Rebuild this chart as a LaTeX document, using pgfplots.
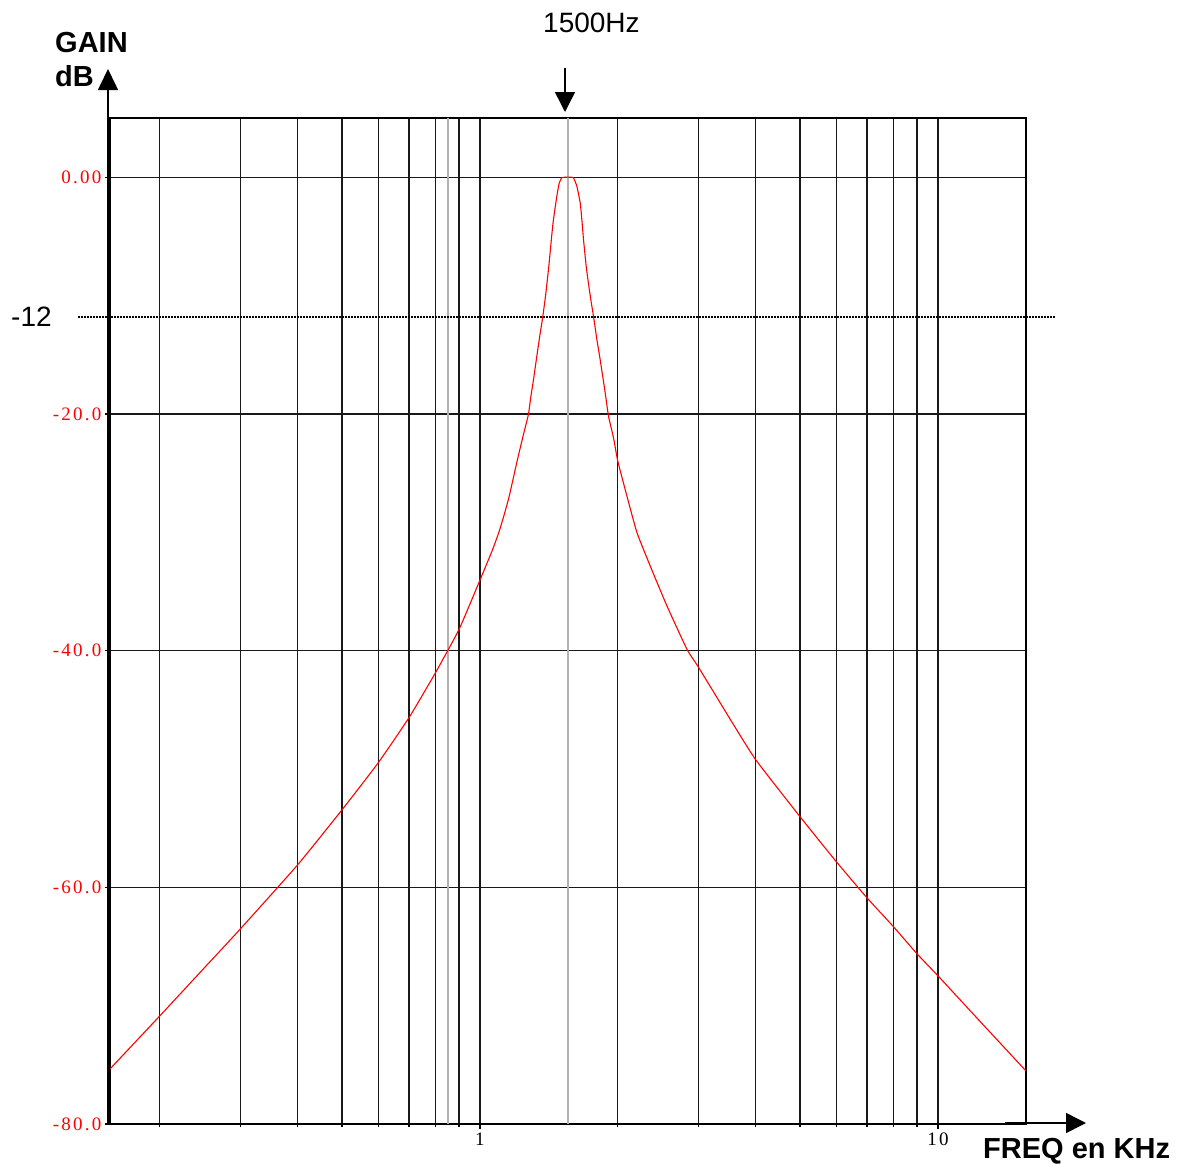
\documentclass[border=0pt]{standalone}
\usepackage{pgfplots}
\pgfplotsset{compat=1.18}
\usepackage{fontspec}
\setmainfont{Liberation Sans}
\newfontfamily\tf[LetterSpace=12]{Liberation Serif}
\usetikzlibrary{arrows.meta}

\pgfplotstableread{
f dB
0.1557 -75.35
0.2 -70.87
0.25 -66.82
0.3 -63.51
0.4 -58.10
0.5 -53.45
0.6 -49.47
0.7 -45.67
0.8 -41.86
0.9 -38.22
1.0 -34.05
1.029 -32.90
1.065 -31.50
1.100 -30.00
1.130 -28.50
1.158 -27.00
1.183 -25.40
1.212 -23.60
1.240 -22.00
1.276 -20.04
1.291 -18.60
1.308 -17.20
1.328 -15.40
1.350 -13.50
1.372 -11.75
1.392 -9.90
1.414 -7.50
1.435 -4.90
1.447 -3.60
1.472 -1.60
1.490 -0.50
1.509 -0.05
1.530 0.00
1.557 0.00
1.585 0.00
1.600 -0.05
1.627 -0.73
1.655 -2.14
1.669 -3.55
1.683 -5.24
1.706 -7.50
1.726 -9.00
1.747 -10.40
1.770 -11.75
1.800 -13.70
1.830 -15.39
1.877 -18.21
1.909 -20.20
1.957 -22.00
2.0 -23.99
2.094 -26.95
2.203 -30.05
2.355 -32.87
2.562 -36.25
2.834 -39.92
3.0 -41.40
3.524 -45.84
4 -49.22
5 -54.04
6 -57.84
7 -60.89
8 -63.34
9 -65.62
10 -67.48
12 -70.80
15.57 -75.52
}\gain

\begin{document}
\begin{tikzpicture}
\useasboundingbox (0,0) rectangle (1186pt,-1164pt);
\begin{axis}[
 at={(110pt,-118pt)}, anchor=north west,
 scale only axis, width=916pt, height=1006pt,
 xmode=log, xmin=0.1557, xmax=15.57, ymin=-80, ymax=5,
 xtick={1,10}, xticklabels={1,10},
 minor xtick={0.2,0.3,0.4,0.5,0.6,0.7,0.8,0.9,2,3,4,5,6,7,8,9},
 ytick={0,-20,-40,-60,-80}, yticklabels={0.00,-20.0,-40.0,-60.0,-80.0},
 grid=both,
 major grid style={black!90, line width=1.35pt},
 minor grid style={black!90, line width=1.35pt},
 axis line style={black, line width=1.3pt},
 tick style={black, line width=1.3pt},
 tick align=outside, major tick length=5pt, minor tick length=3pt,
 xtick pos=bottom, ytick pos=left,
 ticklabel style={font=\fontsize{19}{19}\selectfont\tf},
 yticklabel style={text=red},
 clip=false,
]
\draw[gray!60, line width=1.5pt] (axis cs:1.557,-80) -- (axis cs:1.557,5);
\draw[gray!60, line width=1.5pt] (axis cs:0.851,-80) -- (axis cs:0.851,5);
\addplot[red, line width=1.1pt, no marks, smooth, tension=0.3] table[x=f, y=dB] {\gain};
\end{axis}
\draw[black, line width=1.2pt, dash pattern=on 1.5pt off 1.5pt] (78pt,-317pt) -- (1055pt,-317pt);
\draw[line width=1.5pt, -{Triangle[width=20pt,length=21pt]}] (108pt,-1124pt) -- (108pt,-69pt);
\draw[line width=1.5pt, -{Triangle[width=20pt,length=20pt]}] (1005pt,-1123pt) -- (1086pt,-1123pt);
\draw[line width=1.5pt, -{Triangle[width=20pt,length=20pt]}] (565pt,-68pt) -- (565pt,-112pt);
\node[anchor=base west, inner sep=0pt, font=\fontsize{29}{34}\selectfont\bfseries] at (55pt,-53pt) {GAIN};
\node[anchor=base west, inner sep=0pt, font=\fontsize{29}{34}\selectfont\bfseries] at (55pt,-87pt) {dB};
\node[anchor=base west, inner sep=0pt, font=\fontsize{28}{34}\selectfont] at (543pt,-33pt) {1500Hz};
\node[anchor=base west, inner sep=0pt, font=\fontsize{28}{34}\selectfont] at (11pt,-326pt) {-12};
\node[anchor=base west, inner sep=0pt, font=\fontsize{29}{34}\selectfont\bfseries] at (983pt,-1158pt) {FREQ en KHz};
\end{tikzpicture}
\end{document}
